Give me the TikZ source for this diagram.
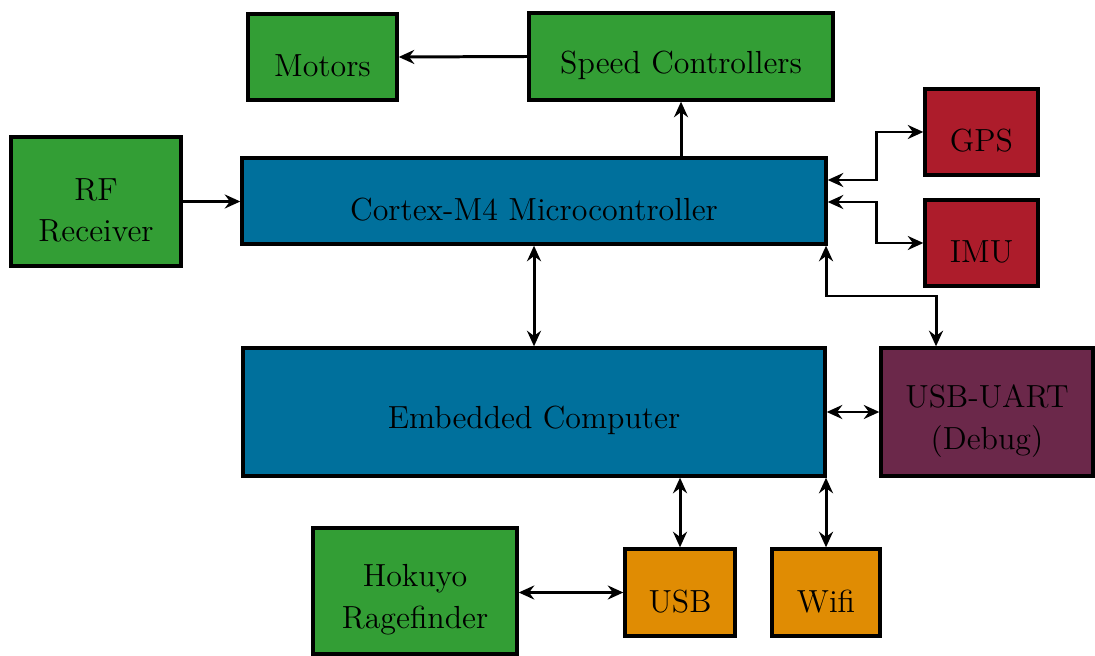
\documentclass[tikz,border=0pt]{standalone}
\usetikzlibrary{arrows.meta}
\definecolor{cgreen}{HTML}{339E35}
\definecolor{cblue}{HTML}{00709C}
\definecolor{cred}{HTML}{AD1C2B}
\definecolor{cpurple}{HTML}{6B284A}
\definecolor{corange}{HTML}{E08C03}
\tikzset{
  blk/.style={draw=black, line width=1.3pt, inner sep=0pt, rectangle},
  lbl/.style={align=center, inner sep=0pt, font=\fontsize{12.3}{16}\selectfont},
  tip/.tip={Stealth[length=6pt,width=5.4pt,inset=2pt]},
  link/.style={line width=1.15pt, -tip},
  dlink/.style={line width=1.15pt, tip-tip}
}
\newcommand\blk[7]{%
  \node[blk, fill=#6, minimum width={(#4-#2)*0.385pt}, minimum height={(#5-#3)*0.385pt}] (#1) at ({(#2+#4)/2},{(#3+#5)/2}) {};
  \node[lbl] (#1-t) at ([yshift=-3.4pt]#1.center) {#7};}
\begin{document}
\begin{tikzpicture}[x=0.385pt, y=-0.385pt]
\useasboundingbox (0,0) rectangle (1095,656);
\blk{motors}{248}{14}{397}{100}{cgreen}{Motors}
\blk{sc}{529}{13}{833}{100}{cgreen}{Speed Controllers}
\blk{rf}{11}{137}{181}{266}{cgreen}{RF\\Receiver}
\blk{cortex}{242}{158}{826}{244}{cblue}{Cortex-M4 Microcontroller}
\blk{gps}{925}{89}{1038}{175}{cred}{GPS}
\blk{imu}{925}{200}{1038}{286}{cred}{IMU}
\blk{emb}{243}{348}{825}{476}{cblue}{Embedded Computer}
\blk{uart}{881}{348}{1093}{476}{cpurple}{USB-UART\\(Debug)}
\blk{hok}{313}{528}{517}{654}{cgreen}{Hokuyo\\Ragefinder}
\blk{usb}{625}{549}{735}{636}{corange}{USB}
\blk{wifi}{772}{549}{880}{636}{corange}{Wifi}

\draw[link] (sc.west) -- (motors.east);
\draw[link] (sc.south |- cortex.north) -- (sc.south);
\draw[link] (rf.east) -- (rf.east -| cortex.west);
\draw[dlink] (cortex.east |- 0,180) -| (876,132) -- (gps.west);
\draw[dlink] (cortex.east |- 0,202) -| (876,243) -- (imu.west);
\draw[dlink] (cortex.south -| 826,0) -- (826,296) -| (uart.north -| 936,0);
\draw[dlink] (cortex.south) -- (emb.north);
\draw[dlink] (emb.east) -- (uart.west);
\draw[dlink] (usb.north |- emb.south) -- (usb.north);
\draw[dlink] (wifi.north |- emb.south) -- (wifi.north);
\draw[dlink] (hok.east |- usb.west) -- (usb.west);
\end{tikzpicture}
\end{document}
